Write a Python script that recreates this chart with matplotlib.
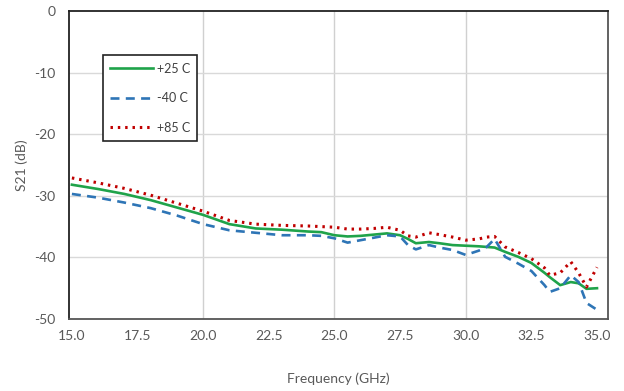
import matplotlib.pyplot as plt

# Données
freq = [15.0, 16.0, 17.0, 18.0, 19.0, 20.0, 21.0, 22.0, 23.0, 24.0, 24.5, 25.0,
        25.5, 26.0, 26.5, 27.0, 27.5, 27.8, 28.1, 28.6, 29.0, 29.5, 30.0, 30.5,
        30.8, 31.1, 31.5, 32.0, 32.5, 33.0, 33.2, 33.6, 34.0, 34.3, 34.6, 35.0]

s21_p25 = [-28.2, -28.9, -29.7, -30.7, -31.9, -33.1, -34.6, -35.3, -35.5, -35.8, -35.9, -36.4,
           -36.6, -36.5, -36.3, -36.1, -36.4, -37.0, -37.7, -37.5, -37.7, -38.0, -38.1, -38.2,
           -38.3, -38.4, -39.1, -39.9, -40.9, -42.5, -43.2, -44.5, -44.0, -44.2, -45.1, -45.0]

s21_m40 = [-29.7, -30.3, -31.1, -32.0, -33.2, -34.6, -35.6, -36.0, -36.4, -36.4, -36.5, -36.9,
           -37.6, -37.2, -36.8, -36.4, -36.6, -38.0, -38.7, -38.0, -38.4, -38.8, -39.6, -38.9,
           -38.3, -37.0, -39.9, -41.0, -42.2, -44.5, -45.6, -45.0, -42.9, -44.0, -47.4, -48.5]

s21_p85 = [-27.1, -27.9, -28.8, -29.9, -31.2, -32.5, -34.0, -34.6, -34.8, -34.9, -35.0, -35.1,
           -35.4, -35.4, -35.3, -35.1, -35.6, -36.5, -36.7, -36.0, -36.3, -36.7, -37.2, -37.0,
           -36.7, -36.6, -38.3, -39.2, -40.2, -41.7, -42.9, -42.5, -40.7, -42.5, -44.8, -41.6]

x_ticks = [15.0, 17.5, 20.0, 22.5, 25.0, 27.5, 30.0, 32.5, 35.0]
y_ticks = [0, -10, -20, -30, -40, -50]

plt.rcParams['font.family'] = ['Lato', 'DejaVu Sans']
plt.rcParams['axes.unicode_minus'] = False

fig = plt.figure(figsize=(6.24, 3.91), dpi=100)
ax = fig.add_axes([0.1106, 0.1841, 0.8638, 0.7878])

ax.plot(freq, s21_p25, color='#1fa34a', lw=1.9, label='+25 C')
ax.plot(freq, s21_m40, color='#2e75b6', lw=1.9, linestyle=(0, (3.4, 2.4)), label='-40 C')
ax.plot(freq, s21_p85, color='#c00000', lw=2.2, linestyle=(0, (0.8, 1.6)), label='+85 C')

ax.set_xlim(14.89, 35.42)
ax.set_ylim(-50, 0)
ax.set_xticks(x_ticks)
ax.set_xticklabels(['%.1f' % v for v in x_ticks])
ax.set_yticks(y_ticks)

# quadrillage
for v in [20.0, 25.0, 30.0]:
    ax.axvline(v, color='#d0d0d0', lw=1, zorder=0)
for v in [-10, -20, -30, -40]:
    ax.axhline(v, color='#d9d9d9', lw=1, zorder=0)

ax.tick_params(length=0, labelsize=10, colors='#595959', pad=8)
ax.tick_params(axis='y', pad=10)
for side in ['left', 'top']:
    ax.spines[side].set_color('#222222')
for side in ['right', 'bottom']:
    ax.spines[side].set_color('#555555')
for s in ax.spines.values():
    s.set_linewidth(1.3)

ax.set_xlabel('Frequency (GHz)', fontsize=10, color='#595959', labelpad=22)
ax.set_ylabel('S21 (dB)', fontsize=10, color='#595959', labelpad=4)

leg = ax.legend(loc='upper left', bbox_to_anchor=(0.063, 0.857), borderaxespad=0,
                fontsize=9, labelspacing=1.4, handlelength=3.4, handletextpad=0.3,
                fancybox=False, framealpha=1, borderpad=0.6)
leg.get_frame().set_edgecolor('#222222')
leg.get_frame().set_linewidth(1.2)
for t in leg.get_texts():
    t.set_color('#404040')

plt.savefig('out.png', dpi=100)
